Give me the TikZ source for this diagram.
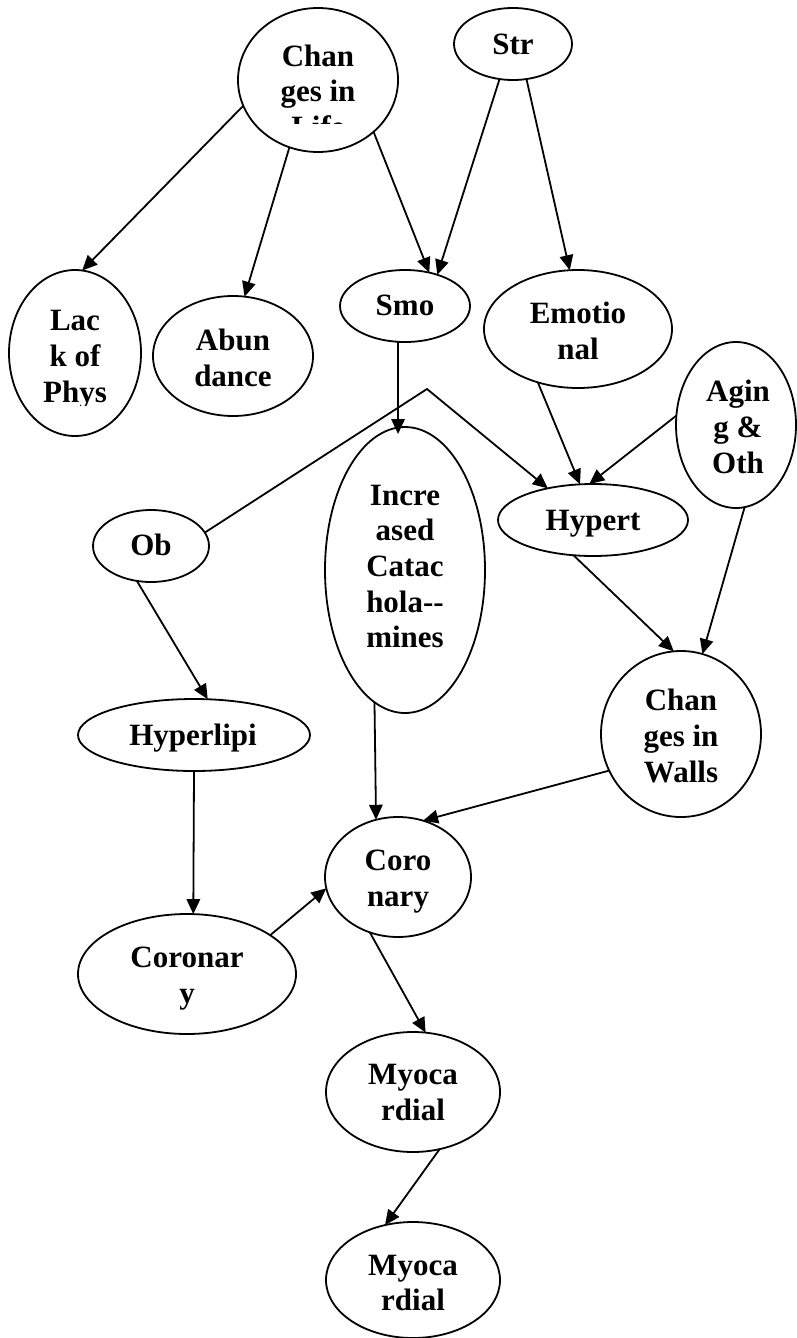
\documentclass[tikz,border=0pt]{standalone}
\usepackage{fontspec}
\setmainfont{Liberation Serif}
\usetikzlibrary{arrows.meta,shapes.geometric}

\begin{document}
\begin{tikzpicture}[x=1pt,y=1pt,
  bubble/.style={draw, line width=1.8pt, ellipse, inner sep=0pt, outer sep=0pt},
  link/.style={line width=1.8pt, -{Triangle[length=15pt,width=13.5pt]}},
  word/.style={inner sep=0pt, outer sep=0pt, anchor=base,
    font=\fontsize{31}{36}\selectfont\bfseries},
]
\useasboundingbox (0,0) rectangle (796,-1338);

% ellipses
\node[bubble, minimum width=160pt, minimum height=144pt] (life)  at (318,-80)   {};
\node[bubble, minimum width=118pt, minimum height=72pt]  (str)   at (513,-44)   {};
\node[bubble, minimum width=132pt, minimum height=166pt] (lack)  at (75,-353)   {};
\node[bubble, minimum width=160pt, minimum height=120pt] (abun)  at (233,-356)  {};
\node[bubble, minimum width=130pt, minimum height=72pt]  (smo)   at (405,-306)  {};
\node[bubble, minimum width=188pt, minimum height=118pt] (emo)   at (578,-329)  {};
\node[bubble, minimum width=120pt, minimum height=166pt] (aging) at (736,-425)  {};
\node[bubble, minimum width=190pt, minimum height=72pt]  (hyp)   at (593,-520)  {};
\node[bubble, minimum width=116pt, minimum height=72pt]  (ob)    at (151,-546)  {};
\node[bubble, minimum width=160pt, minimum height=286pt] (inc)   at (405,-570)  {};
\node[bubble, minimum width=160pt, minimum height=166pt] (walls) at (681,-734)  {};
\node[bubble, minimum width=232pt, minimum height=72pt]  (hlip)  at (194,-735)  {};
\node[bubble, minimum width=146pt, minimum height=120pt] (cor)   at (398,-877)  {};
\node[bubble, minimum width=218pt, minimum height=120pt] (corl)  at (187,-974)  {};
\node[bubble, minimum width=174pt, minimum height=120pt] (myoA)  at (413,-1092) {};
\node[bubble, minimum width=174pt, minimum height=116pt] (myoB)  at (413,-1280) {};

% labels, one node per printed line
\node[word] (lifeA) at (318,-66.5) {Chan};
\node[word] (lifeB) at (318,-101.5) {ges in};
\begin{scope}
  \clip (230,-100) rectangle (400,-123.5);
  \node[word] (lifeC) at (318,-137) {Life};
\end{scope}
\node[word] (strA) at (513,-54.3) {Str};
\node[word] (lackA) at (75,-330.7) {Lac};
\node[word] (lackB) at (75,-366.5) {k of};
\begin{scope}
  \clip (0,-370) rectangle (150,-405);
  \node[word] (lackC) at (75,-402) {Phys};
\end{scope}
\node[word] (abunA) at (233,-350) {Abun};
\node[word] (abunB) at (233,-386) {dance};
\node[word] (smoA) at (405,-315) {Smo};
\node[word] (emoA) at (578,-323.3) {Emotio};
\node[word] (emoB) at (578,-359.3) {nal};
\node[word] (agingA) at (738,-401) {Agin};
\node[word] (agingB) at (738,-437) {g \&};
\node[word] (agingC) at (738,-473) {Oth};
\node[word] (hypA) at (593,-530.7) {Hypert};
\node[word] (obA) at (151,-555) {Ob};
\node[word] (incA) at (405,-505) {Incre};
\node[word] (incB) at (405,-540.5) {ased};
\node[word] (incC) at (405,-576.5) {Catac};
\node[word] (incD) at (405,-612) {hola-{}-};
\node[word] (incE) at (405,-647) {mines};
\node[word] (wallsA) at (681,-710) {Chan};
\node[word] (wallsB) at (681,-746) {ges in};
\node[word] (wallsC) at (681,-782) {Walls};
\node[word] (hlipA) at (193,-745) {Hyperlipi};
\node[word] (corA) at (398,-870) {Coro};
\node[word] (corB) at (398,-906.5) {nary};
\node[word] (corlA) at (187,-967.3) {Coronar};
\node[word] (corlB) at (187,-1003.5) {y};
\node[word] (myoAa) at (413,-1084) {Myoca};
\node[word] (myoAb) at (413,-1120.5) {rdial};
\node[word] (myoBa) at (413,-1275.7) {Myoca};
\node[word] (myoBb) at (413,-1310.5) {rdial};

% connectors
\coordinate (bend) at (427,-389);
\draw[link] (life.199) -- (lack.85);
\draw[link] (life.247) -- (abun.79);
\draw[link] (life.317) -- (smo.54);
\draw[link] (str.249) -- (smo.44);
\draw[link] (str.291) -- (emo.98);
\draw[link, shorten >=-7pt] (smo.259) -- (smo.259 |- inc.north);
\draw[link] (ob.14) -- (bend) -- (hyp.145);
\draw[link] (emo.233) -- (hyp.110);
\draw[link] (aging.171) -- (hyp.96);
\draw[link] (aging.276) -- (walls.75);
\draw[link] (hyp.241) -- (walls.95);
\draw[link] (walls.207) -- (cor.66);
\draw[link] (inc.257) -- (cor.111);
\draw[link] (ob.248) -- (hlip.69);
\draw[link] (hlip.270) -- (corl.84);
\draw[link] (corl.25) -- (cor.189);
\draw[link] (cor.243) -- (myoA.78);
\draw[link] (myoA.295) -- (myoB.117);
\end{tikzpicture}
\end{document}
